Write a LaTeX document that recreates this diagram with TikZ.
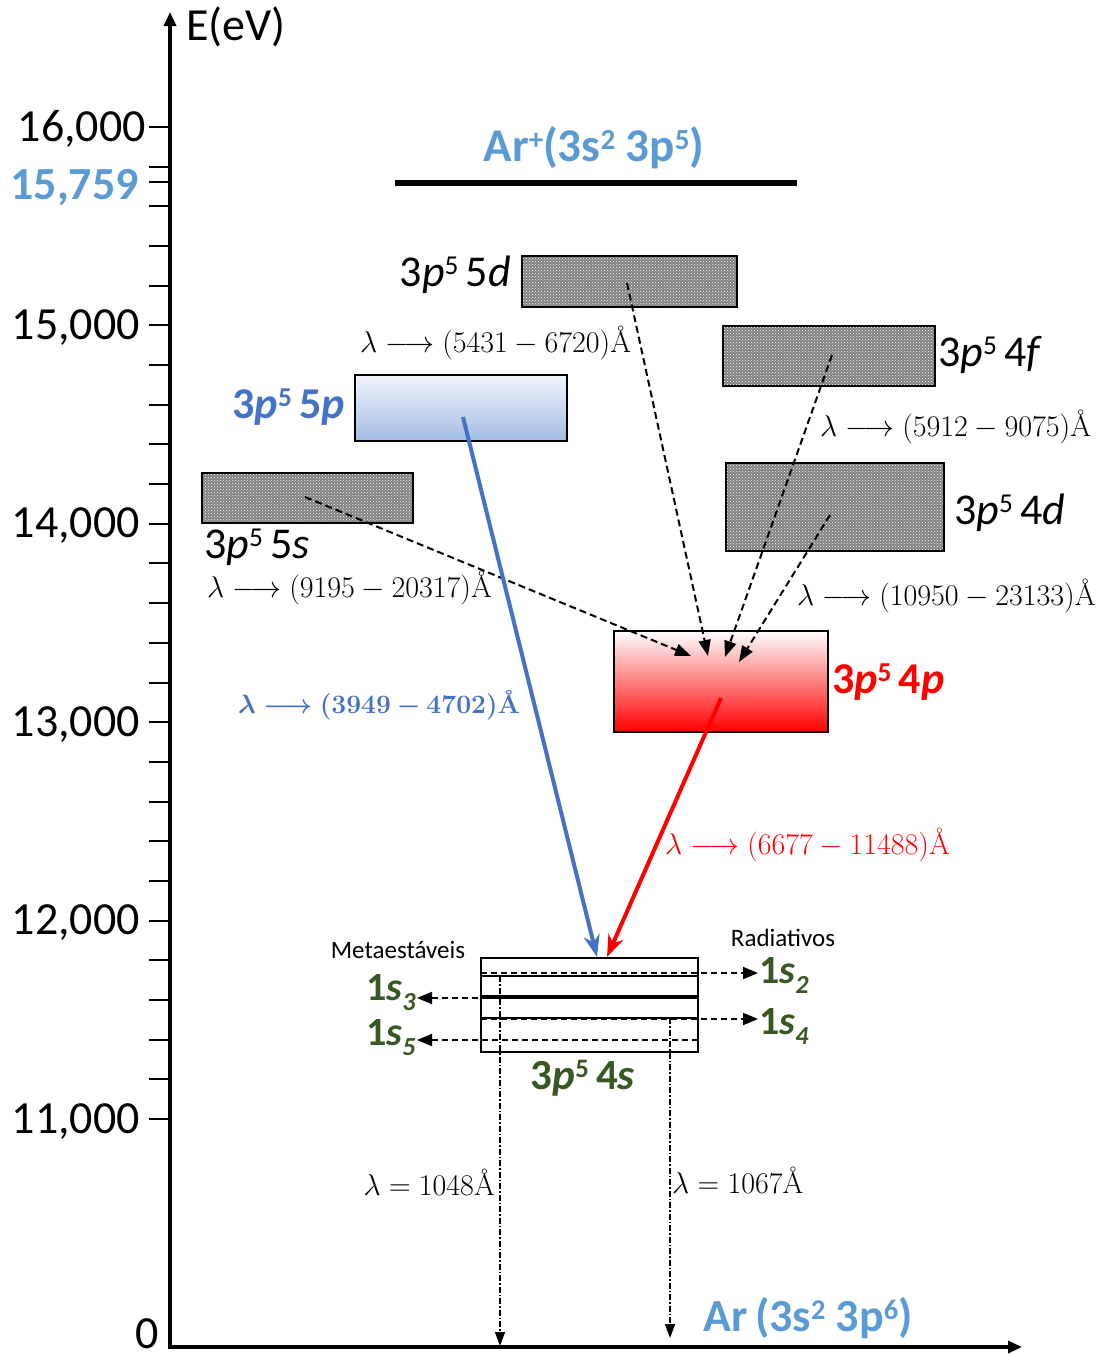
\RequirePackage{fix-cm}
\documentclass[tikz,border=0pt]{standalone}
\usepackage{fontspec}
\newfontfamily\calib{Carlito}
\usepackage{graphicx}
\usepackage{bm}
\usetikzlibrary{arrows.meta,patterns,calc}
\definecolor{lblue}{RGB}{91,155,213}
\definecolor{dblue}{RGB}{68,114,196}
\definecolor{dgreen}{RGB}{56,87,35}
\definecolor{pbluetop}{RGB}{240,244,251}
\definecolor{pbluebot}{RGB}{164,189,228}
\newcommand\upx[1]{\raisebox{0.27em}{\scalebox{0.62}{#1}}}
\newcommand\dnx[1]{\raisebox{-0.25em}{\scalebox{0.65}{#1}}}
\newcommand\bluelab{$\bm{\lambda\longrightarrow(3949-4702)}$\textbf{Å}}
\begin{document}
\begin{tikzpicture}[x=1pt,y=-1pt,
  lab/.style={font=\calib\fontsize{44}{48}\selectfont, inner sep=0pt},
  tick/.style={font=\calib\fontsize{46}{50}\selectfont, inner sep=0pt, anchor=base east},
  mlab/.style={font=\fontsize{30}{34}\selectfont, inner sep=0pt},
  lvl/.style={draw, line width=2pt, inner sep=0pt},
  hatch/.style={lvl, preaction={fill=black!50}, pattern=crosshatch dots, pattern color=white},
  trans/.style={dash pattern=on 7pt off 4pt, line width=2pt, -{Triangle[length=16pt,width=12pt]}},
  decay/.style={dash pattern=on 6pt off 2pt on 1.5pt off 2pt, line width=1.5pt, -{Triangle[length=14pt,width=10pt]}},
  sublab/.style={font=\calib\bfseries\fontsize{40}{44}\selectfont, text=dgreen, inner sep=0pt},
  bigarrow/.style={line width=4pt, -{Stealth[length=22pt,width=16pt]}},
  small/.style={font=\calib\fontsize{25}{28}\selectfont, inner sep=0pt}
]
\useasboundingbox (0,0) rectangle (1108,1355);

% axes
\coordinate (ytop) at (170,12);
\coordinate (orig) at (170,1347);
\coordinate (xend) at (1022,1347);
\draw[line width=4pt, line join=miter, {Triangle[length=14pt,width=12pt]}-{Triangle[length=14pt,width=12pt]}] (ytop) -- (orig) -- (xend);
\node[lab, anchor=west, font=\calib\fontsize{46}{50}\selectfont] (elab) at (186,27) {E(eV)};

% ticks
\foreach \i in {0,...,25} \draw[line width=2pt] (149,{127+39.68*\i}) -- (170,{127+39.68*\i});
\draw[line width=2pt] (149,182) -- (170,182);
\node[tick] (t16) at (146,141) {16,000};
\node[tick, text=lblue, font=\calib\bfseries\fontsize{46}{50}\selectfont] (t15759) at (139,199) {15,759};
\node[tick] (t15) at (140,339) {15,000};
\node[tick] (t14) at (140,537) {14,000};
\node[tick] (t13) at (140,736) {13,000};
\node[tick] (t12) at (140,934) {12,000};
\node[tick] (t11) at (140,1133) {11,000};
\node[tick, anchor=base] (t0) at (147,1348) {0};

% ionization limit
\draw[line width=6pt] (395,183) -- (797,183);
\node[lab, font=\calib\bfseries\fontsize{47}{50}\selectfont, text=lblue] (arplus) at (594,148) {Ar\upx{+}(3s\upx{2} 3p\upx{5})};

% levels
\node[hatch, minimum width=215pt, minimum height=51pt] (b5d) at (629.5,281.5) {};
\node[hatch, minimum width=212pt, minimum height=60pt] (b4f) at (829,356) {};
\node[hatch, minimum width=218pt, minimum height=88pt] (b4d) at (835,507) {};
\node[hatch, minimum width=211pt, minimum height=50pt] (b5s) at (307.5,498) {};
\node[lvl, top color=pbluetop, bottom color=pbluebot, minimum width=212pt, minimum height=66pt] (b5p) at (461,408) {};
\node[lvl, top color=white, bottom color=red, minimum width=214pt, minimum height=101pt] (b4p) at (721,681.5) {};
\node[lvl, minimum width=217pt, minimum height=94pt] (b4s) at (589.5,1005) {};

% level labels
\node[lab, anchor=east] (l5d) at (511,275) {3\textit{p}\upx{5}\,5\textit{d}};
\node[lab, anchor=west] (l4f) at (938,355) {3\textit{p}\upx{5}\,4\textit{f}};
\node[lab, anchor=west] (l4d) at (954,513) {3\textit{p}\upx{5}\,4\textit{d}};
\node[lab, anchor=west] (l5s) at (204,547) {3\textit{p}\upx{5}\,5\textit{s}};
\node[lab, anchor=east, font=\calib\bfseries\fontsize{44}{48}\selectfont, text=dblue] (l5p) at (345,407) {3\textit{p}\upx{5}\,5\textit{p}};
\node[lab, anchor=west, font=\calib\bfseries\fontsize{44}{48}\selectfont, text=red] (l4p) at (832,682) {3\textit{p}\upx{5}\,4\textit{p}};
\node[lab, font=\calib\bfseries\fontsize{43}{46}\selectfont, text=dgreen] (l4s) at (583,1078) {3\textit{p}\upx{5}\,4\textit{s}};
\node[lab, anchor=west, font=\calib\bfseries\fontsize{46}{50}\selectfont, text=lblue] (ar0) at (703,1318) {Ar\,(3s\upx{2} 3p\upx{6})};

% wavelength labels
\node[mlab, anchor=west] (w5d) at (360,343) {$\lambda\longrightarrow(5431-6720)$Å};
\node[mlab, anchor=west] (w4f) at (820,427) {$\lambda\longrightarrow(5912-9075)$Å};
\node[mlab, anchor=west] (w5s) at (207,588) {$\lambda\longrightarrow(9195-20317)$Å};
\node[mlab, anchor=west] (w4d) at (797,596) {$\lambda\longrightarrow(10950-23133)$Å};
\node[mlab, anchor=west, text=dblue, font=\fontsize{26.5}{30}\selectfont] (w5p) at (238,705) {\bluelab};
\node[mlab, anchor=west, text=red] (w4p) at (665,845) {$\lambda\longrightarrow(6677-11488)$Å};
\node[mlab, anchor=east] (w1048) at (495,1182) {$\lambda=1048$Å};
\node[mlab, anchor=west] (w1067) at (672,1180) {$\lambda=1067$Å};

% transitions into 4p
\coordinate (p5s) at (305,497);
\coordinate (p5d) at (627,283);
\coordinate (p4f) at (832,355);
\coordinate (p4d) at (830,515);
\coordinate (q1) at (691,656);
\coordinate (q2) at (708,656);
\coordinate (q3) at (725,657);
\coordinate (q4) at (739,662);
\draw[trans] (p5s) -- (q1);
\draw[trans] (p5d) -- (q2);
\draw[trans] (p4f) -- (q3);
\draw[trans] (p4d) -- (q4);

% transitions into 4s
\coordinate (p5p) at (463,417);
\coordinate (e5p) at (597,957);
\coordinate (p4pp) at (721,698);
\coordinate (e4p) at (607,957);
\draw[bigarrow, dblue] (p5p) -- (e5p);
\draw[bigarrow, red] (p4pp) -- (e4p);

% 4s sublevels
\draw[line width=2.5pt] (481,976) -- (698,976);
\draw[line width=3.5pt] (481,997) -- (698,997);
\draw[line width=2.5pt] (481,1018) -- (698,1018);

\node[sublab, anchor=west] (s2) at (759,975) {1\textit{s}\dnx{\textit{2}}};
\node[sublab, anchor=west] (s3) at (366,993) {1\textit{s}\dnx{\textit{3}}};
\node[sublab, anchor=west] (s4) at (759,1026) {1\textit{s}\dnx{\textit{4}}};
\node[sublab, anchor=west] (s5) at (366,1038) {1\textit{s}\dnx{\textit{5}}};
\node[small] (meta) at (398,950) {Metaestáveis};
\node[small] (rad) at (783,938) {Radiativos};

\coordinate (a2s) at (481,973);
\coordinate (a2e) at (758,973);
\coordinate (a3s) at (698,998);
\coordinate (a3e) at (417,998);
\coordinate (a4s) at (481,1019);
\coordinate (a4e) at (758,1019);
\coordinate (a5s) at (698,1040);
\coordinate (a5e) at (417,1040);
\draw[trans, dash pattern=on 6pt off 4pt, -{Triangle[length=15pt,width=12pt]}] (a2s) -- (a2e);
\draw[trans, dash pattern=on 6pt off 4pt, -{Triangle[length=15pt,width=12pt]}] (a3s) -- (a3e);
\draw[trans, dash pattern=on 6pt off 4pt, -{Triangle[length=15pt,width=12pt]}] (a4s) -- (a4e);
\draw[trans, dash pattern=on 6pt off 4pt, -{Triangle[length=15pt,width=12pt]}] (a5s) -- (a5e);

% decays to ground
\coordinate (d1s) at (500,976);
\coordinate (d1e) at (500,1346);
\coordinate (d2s) at (670,1018);
\coordinate (d2e) at (670,1338);
\draw[decay] (d1s) -- (d1e);
\draw[decay] (d2s) -- (d2e);
\end{tikzpicture}
\end{document}
